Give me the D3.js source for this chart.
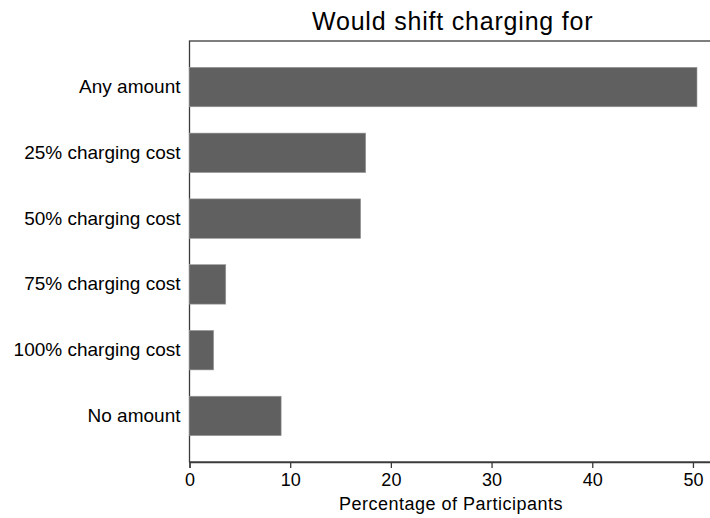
<!DOCTYPE html>
<html>
<head>
<meta charset="utf-8">
<script src="https://cdn.jsdelivr.net/npm/d3@7"></script>
<style>
  html, body { margin: 0; padding: 0; background: #fff; }
  svg { display: block; }
  text { font-family: "Liberation Sans", Arial, sans-serif; fill: #000; }
</style>
</head>
<body>
<svg id="chart" width="710" height="518"></svg>
<script>
const categories = ["Any amount", "25% charging cost", "50% charging cost", "75% charging cost", "100% charging cost", "No amount"];
const values = [50.4, 17.5, 17.0, 3.6, 2.4, 9.1];
const xTicks = [0, 10, 20, 30, 40, 50];
const chartTitle = "Would shift charging for";
const xTitle = "Percentage of Participants";

(function () {
const svg = d3.select("#chart");
const mLeft = 189.5, mRight = 714.5, mTop = 41, mBottom = 462;

const x = d3.scaleLinear().domain([0, 52.14]).range([mLeft, mRight]);
const y = d3.scaleBand().domain(categories).range([mTop, mBottom]).paddingInner(0.4).paddingOuter(0.4);

// frame
svg.append("rect")
  .attr("x", mLeft).attr("y", mTop)
  .attr("width", mRight - mLeft).attr("height", mBottom - mTop)
  .attr("fill", "none").attr("stroke", "#3a3a3a").attr("stroke-width", 1.3);

// bars
svg.append("g").selectAll("rect")
  .data(categories)
  .join("rect")
  .attr("x", x(0))
  .attr("y", d => y(d))
  .attr("width", (d, i) => x(values[i]) - x(0))
  .attr("height", y.bandwidth())
  .attr("fill", "#606060")
  .attr("stroke", "#9a9a9a")
  .attr("stroke-width", 0.6);

// x axis
const xAxis = svg.append("g")
  .attr("transform", `translate(0,${mBottom})`)
  .call(d3.axisBottom(x).tickValues(xTicks).tickSize(6).tickPadding(5).tickFormat(d3.format("d")));
xAxis.select(".domain").attr("stroke", "#3a3a3a").attr("stroke-width", 1.3);
xAxis.selectAll(".tick line").attr("stroke", "#3a3a3a").attr("stroke-width", 1.3);
xAxis.selectAll(".tick text").attr("font-size", 18).attr("font-family", "Liberation Sans, Arial, sans-serif").attr("fill", "#000");

// y axis labels
const yAxis = svg.append("g")
  .attr("transform", `translate(${mLeft},0)`)
  .call(d3.axisLeft(y).tickSize(0).tickPadding(9));
yAxis.select(".domain").remove();
yAxis.selectAll(".tick text").attr("font-size", 19).attr("font-family", "Liberation Sans, Arial, sans-serif").attr("fill", "#000");

// title
svg.append("text")
  .attr("x", 452.7).attr("y", 29.5)
  .attr("text-anchor", "middle")
  .attr("font-size", 25)
  .attr("letter-spacing", 0.8)
  .text(chartTitle);

// x axis title
svg.append("text")
  .attr("x", 451).attr("y", 510)
  .attr("text-anchor", "middle")
  .attr("font-size", 18)
  .attr("letter-spacing", 0.5)
  .text(xTitle);
})();
</script>
</body>
</html>
